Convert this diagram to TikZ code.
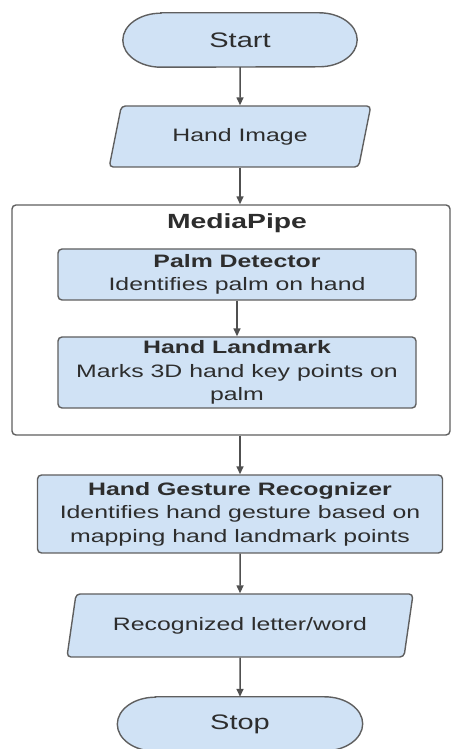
\documentclass[tikz,border=0pt]{standalone}
\usepackage{fontspec}
\setmainfont{Liberation Sans}[FakeStretch=1.38]
\usetikzlibrary{arrows.meta, shapes.geometric, backgrounds}

\definecolor{boxfill}{RGB}{208,226,245}
\definecolor{boxline}{RGB}{95,95,95}
\definecolor{txtgray}{RGB}{45,45,45}
\definecolor{arrowgray}{RGB}{80,80,80}

\tikzset{
  basebox/.style={draw=boxline, fill=boxfill, line width=1.4pt, text=txtgray,
    font=\fontsize{18pt}{23.5pt}\selectfont, align=center, inner sep=2pt},
  procbox/.style={basebox, rectangle, rounded corners=4pt},
  iobox/.style={basebox, trapezium, trapezium left angle=71, trapezium right angle=109,
    trapezium stretches=true, rounded corners=4pt},
  termbox/.style={text=txtgray, font=\fontsize{21pt}{25pt}\selectfont,
    minimum height=54pt, inner sep=0pt},
  termline/.style={draw=boxline, fill=boxfill, line width=1.4pt},
  groupbox/.style={draw=boxline, fill=white, line width=1.4pt, rounded corners=4pt},
  flow/.style={draw=arrowgray, line width=1.5pt, -{Triangle[length=8pt, width=7pt]}},
}

% stadium outline with flattened ends, behind a termbox node
\newcommand\termshape[1]{%
  \begin{pgfonlayer}{background}
    \path[termline] ([xshift=38pt]#1.north west) -- ([xshift=-38pt]#1.north east)
      arc[start angle=90, end angle=-90, x radius=38pt, y radius=27pt]
      -- ([xshift=38pt]#1.south west)
      arc[start angle=270, end angle=90, x radius=38pt, y radius=27pt] -- cycle;
  \end{pgfonlayer}}

\begin{document}
\begin{tikzpicture}[x=1pt, y=1pt]
  \useasboundingbox (0,0) rectangle (452,749);

  \node[termbox, minimum width=234pt] (start) at (240,709) {Start};
  \termshape{start}
  \node[iobox, minimum width=262pt, minimum height=61pt] (himg) at (240,612.5) {Hand Image};

  % MediaPipe group
  \node[groupbox, minimum width=438pt, minimum height=230pt] (mp) at (231,429) {};
  \node[text=txtgray, font=\fontsize{20.5pt}{24pt}\selectfont\bfseries] (mptitle) at (237,526) {MediaPipe};
  \node[procbox, minimum width=358pt, minimum height=51pt] (palm) at (237,474.5)
    {\textbf{Palm Detector}\\Identifies palm on hand};
  \node[procbox, minimum width=358pt, minimum height=71pt] (lmk) at (237,376.5)
    {\textbf{Hand Landmark}\\Marks 3D hand key points on\\palm};

  \node[procbox, minimum width=405pt, minimum height=78pt] (hgr) at (240,235)
    {\textbf{Hand Gesture Recognizer}\\Identifies hand gesture based on\\mapping hand landmark points};
  \node[iobox, minimum width=347pt, minimum height=63pt] (rec) at (240,123.5) {Recognized letter/word};
  \node[termbox, minimum width=245pt] (stop) at (240,25) {Stop};
  \termshape{stop}

  \draw[flow] (start) -- (himg);
  \draw[flow] (himg.south) -- (himg.south |- mp.north);
  \draw[flow] (palm) -- (lmk);
  \draw[flow] (hgr.north |- mp.south) -- (hgr.north);
  \draw[flow] (hgr) -- (rec);
  \draw[flow] (rec) -- (stop);
\end{tikzpicture}
\end{document}
